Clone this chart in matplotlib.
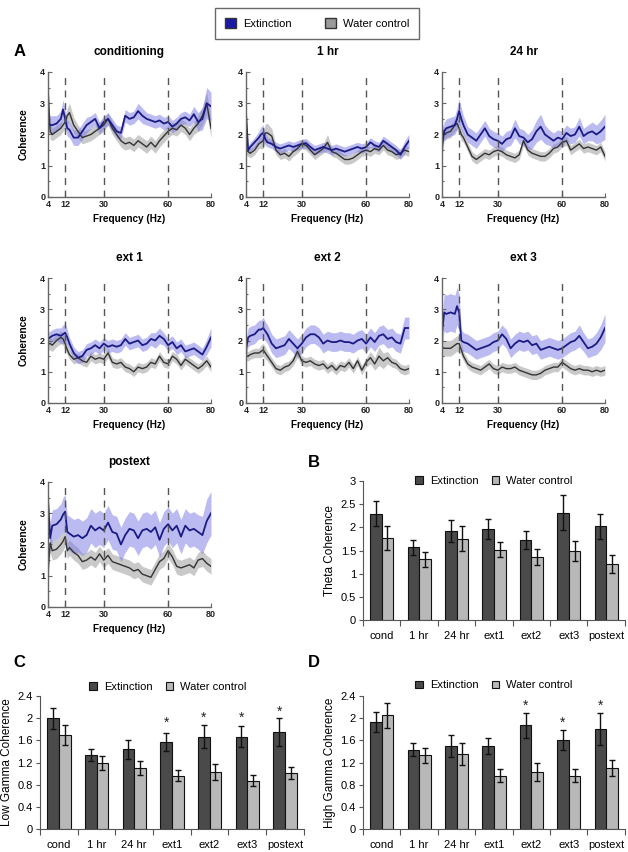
import matplotlib.pyplot as plt
from matplotlib.patches import Patch
from matplotlib.ticker import MultipleLocator
import numpy as np

plt.rcParams['font.family'] = ['Liberation Sans', 'DejaVu Sans']

# ---- coherence spectra (panel A) ----
FREQ = [4, 5, 6, 8, 10, 11, 12, 13, 14, 16,
        18, 20, 22, 24, 26, 28, 30, 32, 34, 36,
        38, 40, 42, 44, 46, 48, 50, 52, 54, 56,
        58, 60, 62, 64, 66, 68, 70, 72, 74, 76, 78, 80]

cond_ext = [2.4, 2.3, 2.3, 2.35, 2.5, 2.8, 2.5, 2.2, 2.15, 1.9,
            1.9, 2.1, 2.3, 2.4, 2.5, 2.2, 2.4, 2.5, 2.3, 2.1,
            2.05, 2.6, 2.5, 2.55, 2.75, 2.6, 2.5, 2.45, 2.4, 2.45,
            2.35, 2.4, 2.25, 2.35, 2.5, 2.55, 2.45, 2.65, 2.4, 2.5, 3.0, 2.9]
cond_ext_se = [0.35, 0.3, 0.3, 0.25, 0.25, 0.3, 0.3, 0.25, 0.25, 0.25,
               0.25, 0.25, 0.25, 0.2, 0.2, 0.2, 0.2, 0.2, 0.2, 0.2,
               0.2, 0.2, 0.2, 0.2, 0.25, 0.25, 0.2, 0.2, 0.2, 0.2,
               0.2, 0.2, 0.2, 0.2, 0.2, 0.2, 0.2, 0.25, 0.3, 0.35, 0.5, 0.45]
cond_wat = [3.5, 2.1, 2.0, 2.1, 2.2, 2.3, 2.4, 2.6, 2.7, 2.3,
            2.1, 1.9, 1.95, 2.0, 2.1, 2.2, 2.3, 2.5, 2.2, 2.0,
            1.8, 1.7, 1.75, 1.65, 1.8, 1.7, 1.6, 1.75, 1.6, 1.8,
            1.95, 2.1, 2.2, 2.15, 2.3, 2.2, 2.0, 2.2, 2.35, 2.6, 3.0, 2.2]
cond_wat_se = [0.3, 0.25, 0.2, 0.2, 0.2, 0.2, 0.2, 0.25, 0.3, 0.25,
               0.2, 0.2, 0.2, 0.2, 0.2, 0.2, 0.2, 0.2, 0.2, 0.2,
               0.2, 0.2, 0.2, 0.2, 0.2, 0.2, 0.2, 0.2, 0.2, 0.2,
               0.2, 0.2, 0.2, 0.2, 0.2, 0.2, 0.2, 0.2, 0.25, 0.3, 0.35, 0.3]

h1_ext = [2.7, 1.5, 1.6, 1.75, 1.9, 2.0, 2.05, 1.85, 1.75, 1.7,
          1.6, 1.55, 1.6, 1.65, 1.6, 1.65, 1.7, 1.72, 1.6, 1.5,
          1.55, 1.6, 1.55, 1.5, 1.55, 1.5, 1.45, 1.5, 1.55, 1.6,
          1.55, 1.6, 1.75, 1.65, 1.6, 1.8, 1.7, 1.6, 1.5, 1.35, 1.6, 1.8]
h1_ext_se = [0.2, 0.15, 0.15, 0.15, 0.2, 0.25, 0.25, 0.2, 0.15, 0.15,
             0.15, 0.15, 0.15, 0.15, 0.15, 0.15, 0.15, 0.15, 0.15, 0.15,
             0.15, 0.15, 0.15, 0.15, 0.15, 0.15, 0.15, 0.15, 0.15, 0.15,
             0.15, 0.15, 0.15, 0.15, 0.15, 0.15, 0.15, 0.15, 0.15, 0.15, 0.2, 0.2]
h1_wat = [1.5, 1.45, 1.4, 1.5, 1.7, 1.75, 1.8, 2.05, 2.05, 1.95,
          1.5, 1.35, 1.4, 1.3, 1.45, 1.55, 1.7, 1.65, 1.5, 1.35,
          1.45, 1.55, 1.75, 1.45, 1.4, 1.3, 1.2, 1.2, 1.25, 1.35,
          1.45, 1.5, 1.45, 1.55, 1.5, 1.65, 1.5, 1.45, 1.35, 1.4, 1.5, 1.45]
h1_wat_se = [0.15, 0.15, 0.15, 0.15, 0.15, 0.2, 0.25, 0.3, 0.3, 0.25,
             0.15, 0.15, 0.15, 0.15, 0.15, 0.15, 0.15, 0.15, 0.15, 0.15,
             0.15, 0.15, 0.25, 0.15, 0.15, 0.15, 0.15, 0.15, 0.15, 0.15,
             0.15, 0.15, 0.15, 0.15, 0.15, 0.15, 0.15, 0.15, 0.15, 0.15, 0.15, 0.15]

h24_ext = [1.6, 2.1, 2.2, 2.25, 2.3, 2.5, 2.75, 2.5, 2.3, 2.0,
           1.9, 1.8, 2.0, 2.2, 1.95, 1.85, 1.8, 1.7, 1.85, 1.9,
           2.2, 1.95, 1.9, 1.75, 1.85, 2.1, 2.25, 2.0, 1.9, 1.8,
           1.9, 1.85, 2.05, 1.95, 2.0, 2.25, 1.95, 2.05, 2.1, 2.0, 2.1, 2.25]
h24_ext_se = [0.3, 0.3, 0.3, 0.3, 0.3, 0.35, 0.4, 0.35, 0.3, 0.25,
              0.25, 0.25, 0.25, 0.25, 0.25, 0.25, 0.25, 0.25, 0.25, 0.25,
              0.3, 0.25, 0.25, 0.25, 0.3, 0.35, 0.4, 0.3, 0.25, 0.25,
              0.25, 0.25, 0.25, 0.25, 0.25, 0.3, 0.25, 0.25, 0.3, 0.3, 0.35, 0.4]
h24_wat = [2.2, 2.0, 2.05, 2.1, 2.3, 2.35, 2.2, 2.0, 1.9, 1.6,
           1.3, 1.2, 1.3, 1.4, 1.35, 1.45, 1.5, 1.45, 1.35, 1.3,
           1.25, 1.35, 1.8, 1.5, 1.4, 1.35, 1.3, 1.3, 1.4, 1.55,
           1.6, 1.75, 1.8, 1.5, 1.6, 1.7, 1.55, 1.6, 1.55, 1.5, 1.6, 1.3]
h24_wat_se = [0.2, 0.2, 0.2, 0.2, 0.2, 0.2, 0.2, 0.2, 0.15, 0.15,
              0.15, 0.15, 0.15, 0.15, 0.15, 0.15, 0.15, 0.15, 0.15, 0.15,
              0.15, 0.15, 0.15, 0.15, 0.15, 0.15, 0.15, 0.15, 0.15, 0.15,
              0.15, 0.15, 0.15, 0.15, 0.15, 0.15, 0.15, 0.15, 0.15, 0.15, 0.15, 0.15]

e1_ext = [2.05, 2.1, 2.15, 2.2, 2.15, 2.2, 2.25, 2.1, 1.9, 1.6,
          1.45, 1.5, 1.7, 1.75, 1.85, 1.75, 1.9, 1.8, 1.85, 1.8,
          1.85, 2.05, 1.9, 1.95, 2.0, 1.85, 1.9, 2.05, 2.0, 2.15,
          2.05, 1.85, 1.95, 1.75, 1.85, 1.65, 1.7, 1.75, 1.65, 1.55, 1.8, 2.1]
e1_ext_se = [0.2, 0.2, 0.2, 0.2, 0.25, 0.3, 0.3, 0.25, 0.2, 0.2,
             0.2, 0.2, 0.2, 0.2, 0.2, 0.2, 0.2, 0.2, 0.2, 0.2,
             0.2, 0.2, 0.2, 0.2, 0.2, 0.2, 0.2, 0.2, 0.25, 0.25,
             0.2, 0.2, 0.2, 0.2, 0.2, 0.2, 0.2, 0.2, 0.2, 0.2, 0.25, 0.3]
e1_wat = [1.9, 1.9, 1.85, 2.0, 2.1, 2.05, 1.9, 1.7, 1.55, 1.4,
          1.45, 1.35, 1.3, 1.5, 1.4, 1.45, 1.4, 1.6, 1.3, 1.25,
          1.3, 1.15, 1.1, 1.0, 1.15, 1.1, 1.15, 1.3, 1.25, 1.5,
          1.3, 1.25, 1.5, 1.4, 1.2, 1.4, 1.3, 1.2, 1.1, 1.2, 1.35, 1.15]
e1_wat_se = [0.2, 0.2, 0.2, 0.2, 0.2, 0.2, 0.2, 0.15, 0.15, 0.15,
             0.15, 0.15, 0.15, 0.15, 0.15, 0.15, 0.15, 0.15, 0.15, 0.15,
             0.15, 0.15, 0.15, 0.15, 0.15, 0.15, 0.15, 0.15, 0.15, 0.15,
             0.15, 0.15, 0.15, 0.15, 0.15, 0.15, 0.15, 0.15, 0.15, 0.15, 0.15, 0.15]

e2_ext = [1.7, 2.1, 2.15, 2.2, 2.35, 2.35, 2.4, 2.3, 2.2, 1.9,
          1.75, 1.8, 1.85, 2.05, 1.9, 1.75, 1.9, 2.1, 2.2, 2.2,
          2.1, 1.9, 2.0, 1.95, 1.95, 2.0, 1.95, 1.95, 1.9, 2.0,
          2.05, 1.9, 2.1, 1.95, 2.15, 2.2, 2.05, 2.1, 1.95, 1.9, 2.4, 2.4]
e2_ext_se = [0.3, 0.3, 0.3, 0.3, 0.3, 0.3, 0.35, 0.3, 0.3, 0.3,
             0.3, 0.3, 0.3, 0.3, 0.3, 0.3, 0.3, 0.3, 0.3, 0.3,
             0.3, 0.3, 0.3, 0.3, 0.3, 0.3, 0.3, 0.3, 0.3, 0.3,
             0.3, 0.3, 0.3, 0.3, 0.3, 0.3, 0.3, 0.3, 0.3, 0.3, 0.35, 0.35]
e2_wat = [1.5, 1.5, 1.55, 1.6, 1.6, 1.65, 1.7, 1.6, 1.5, 1.3,
          1.1, 1.05, 1.15, 1.2, 1.35, 1.65, 1.35, 1.3, 1.35, 1.25,
          1.2, 1.25, 1.1, 1.2, 1.05, 1.2, 1.15, 1.3, 1.1, 1.35,
          1.05, 1.3, 1.45, 1.25, 1.5, 1.35, 1.45, 1.3, 1.25, 1.1, 1.05, 1.1]
e2_wat_se = [0.15, 0.15, 0.15, 0.15, 0.15, 0.2, 0.2, 0.2, 0.15, 0.15,
             0.15, 0.15, 0.15, 0.15, 0.15, 0.2, 0.15, 0.15, 0.15, 0.15,
             0.15, 0.15, 0.15, 0.15, 0.15, 0.15, 0.15, 0.15, 0.15, 0.15,
             0.15, 0.15, 0.2, 0.2, 0.3, 0.25, 0.2, 0.15, 0.15, 0.15, 0.15, 0.15]

e3_ext = [2.2, 2.9, 2.85, 2.9, 2.85, 3.1, 2.9, 2.0, 1.95, 1.9,
          1.8, 1.7, 1.75, 1.8, 1.85, 1.95, 2.0, 2.2, 2.05, 1.75,
          1.9, 2.0, 1.95, 2.0, 1.85, 1.9, 1.7, 1.75, 1.8, 1.75,
          1.7, 1.75, 1.85, 1.95, 2.0, 2.15, 1.95, 1.75, 1.8, 1.9, 2.1, 2.4]
e3_ext_se = [0.5, 0.6, 0.6, 0.6, 0.6, 0.6, 0.6, 0.35, 0.3, 0.3,
             0.3, 0.3, 0.3, 0.3, 0.3, 0.3, 0.3, 0.3, 0.3, 0.3,
             0.3, 0.3, 0.3, 0.3, 0.3, 0.3, 0.3, 0.3, 0.3, 0.3,
             0.3, 0.3, 0.3, 0.3, 0.3, 0.35, 0.3, 0.3, 0.3, 0.35, 0.4, 0.45]
e3_wat = [1.8, 1.75, 1.75, 1.75, 1.85, 1.9, 1.9, 1.7, 1.5, 1.25,
          1.15, 1.1, 1.05, 1.15, 1.25, 1.1, 1.05, 1.15, 1.1, 1.1,
          1.15, 1.05, 1.0, 0.95, 0.9, 0.9, 0.95, 1.05, 1.1, 1.15,
          1.15, 1.3, 1.2, 1.1, 1.05, 1.1, 1.05, 1.05, 1.0, 1.05, 1.0, 1.05]
e3_wat_se = [0.25, 0.25, 0.25, 0.25, 0.25, 0.25, 0.25, 0.2, 0.15, 0.15,
             0.15, 0.15, 0.15, 0.15, 0.15, 0.15, 0.15, 0.15, 0.15, 0.15,
             0.15, 0.15, 0.15, 0.15, 0.15, 0.15, 0.15, 0.15, 0.15, 0.15,
             0.15, 0.15, 0.15, 0.15, 0.15, 0.15, 0.15, 0.15, 0.15, 0.15, 0.15, 0.15]

post_ext = [3.4, 2.2, 2.6, 2.65, 2.8, 2.95, 3.05, 2.4, 2.35, 2.25,
            2.3, 2.2, 2.3, 2.6, 2.45, 2.55, 2.45, 2.7, 2.4, 2.35,
            2.0, 2.3, 2.5, 2.45, 2.2, 2.45, 2.5, 2.4, 2.55, 2.15,
            2.5, 2.65, 2.45, 2.6, 2.25, 2.6, 2.45, 2.5, 2.4, 2.3, 2.75, 3.0]
post_ext_se = [0.5, 0.5, 0.5, 0.5, 0.5, 0.55, 0.55, 0.55, 0.55, 0.55,
               0.55, 0.55, 0.55, 0.55, 0.55, 0.55, 0.55, 0.55, 0.55, 0.55,
               0.55, 0.55, 0.55, 0.55, 0.55, 0.55, 0.55, 0.55, 0.55, 0.55,
               0.55, 0.55, 0.55, 0.55, 0.55, 0.55, 0.55, 0.55, 0.55, 0.6, 0.7, 0.7]
post_wat = [1.1, 2.05, 1.8, 1.85, 2.0, 2.1, 2.25, 1.8, 1.9, 1.75,
            1.65, 1.45, 1.5, 1.6, 1.5, 1.7, 1.5, 1.65, 1.45, 1.4,
            1.35, 1.3, 1.25, 1.15, 1.2, 1.05, 1.0, 0.95, 1.2, 1.45,
            1.55, 1.8, 1.6, 1.3, 1.25, 1.3, 1.35, 1.25, 1.5, 1.55, 1.4, 1.3]
post_wat_se = [0.3, 0.3, 0.3, 0.3, 0.3, 0.3, 0.3, 0.25, 0.25, 0.25,
               0.25, 0.25, 0.25, 0.25, 0.25, 0.25, 0.25, 0.25, 0.25, 0.25,
               0.25, 0.25, 0.25, 0.25, 0.25, 0.25, 0.25, 0.25, 0.25, 0.25,
               0.25, 0.25, 0.25, 0.25, 0.25, 0.25, 0.25, 0.25, 0.25, 0.25, 0.25, 0.25]

spec_titles = ['conditioning', '1 hr', '24 hr', 'ext 1', 'ext 2', 'ext 3', 'postext']

# ---- band coherence bars (panels B, C, D) ----
sessions = ['cond', '1 hr', '24 hr', 'ext1', 'ext2', 'ext3', 'postext']

theta_ext = [2.30, 1.57, 1.92, 1.97, 1.73, 2.32, 2.02]
theta_ext_err = [0.27, 0.16, 0.23, 0.21, 0.20, 0.37, 0.28]
theta_wat = [1.78, 1.31, 1.76, 1.52, 1.36, 1.49, 1.21]
theta_wat_err = [0.26, 0.16, 0.26, 0.16, 0.18, 0.22, 0.19]

lowg_ext = [2.00, 1.34, 1.44, 1.57, 1.67, 1.67, 1.75]
lowg_ext_err = [0.19, 0.11, 0.17, 0.16, 0.20, 0.19, 0.25]
lowg_wat = [1.69, 1.19, 1.10, 0.96, 1.03, 0.87, 1.01]
lowg_wat_err = [0.18, 0.12, 0.13, 0.10, 0.15, 0.10, 0.11]
lowg_star = [None, None, None, 1.97, 2.07, 2.07, 2.18]

highg_ext = [1.94, 1.43, 1.50, 1.50, 1.87, 1.60, 1.81]
highg_ext_err = [0.18, 0.12, 0.20, 0.15, 0.22, 0.18, 0.29]
highg_wat = [2.05, 1.33, 1.36, 0.96, 1.03, 0.96, 1.10]
highg_wat_err = [0.22, 0.14, 0.20, 0.12, 0.16, 0.12, 0.14]
highg_star = [None, None, None, None, 2.28, 1.98, 2.28]

BLUE_LINE = '#1b1b85'
BLUE_BAND = '#7878e4'
GRAY_LINE = '#333333'
GRAY_BAND = '#c4c4c4'

fig = plt.figure(figsize=(6.28, 8.52), dpi=100)

spectra = [
    (cond_ext, cond_ext_se, cond_wat, cond_wat_se),
    (h1_ext, h1_ext_se, h1_wat, h1_wat_se),
    (h24_ext, h24_ext_se, h24_wat, h24_wat_se),
    (e1_ext, e1_ext_se, e1_wat, e1_wat_se),
    (e2_ext, e2_ext_se, e2_wat, e2_wat_se),
    (e3_ext, e3_ext_se, e3_wat, e3_wat_se),
    (post_ext, post_ext_se, post_wat, post_wat_se),
]
lefts = [0.0764, 0.3917, 0.7038]
bottoms = [0.7688, 0.527, 0.2876]
f = np.array(FREQ)

for i, (ext, ext_se, wat, wat_se) in enumerate(spectra):
    row, col = divmod(i, 3)
    ax = fig.add_axes([lefts[col], bottoms[row], 0.2596, 0.1467])
    ext, ext_se = np.array(ext), np.array(ext_se)
    wat, wat_se = np.array(wat), np.array(wat_se)
    ax.fill_between(f, wat - wat_se, wat + wat_se, color=GRAY_BAND, lw=0, alpha=0.9)
    ax.fill_between(f, ext - ext_se, ext + ext_se, color=BLUE_BAND, lw=0, alpha=0.5)
    ax.plot(f, wat, color=GRAY_LINE, lw=1.0)
    ax.plot(f, ext, color=BLUE_LINE, lw=1.3)
    for v in [12, 30, 60]:
        ax.axvline(v, color='#555555', lw=1.0, ls=(0, (5, 4)))
    ax.set_xlim(4, 80)
    ax.set_ylim(0, 4)
    ax.set_xticks([4, 12, 30, 60, 80])
    ax.set_yticks([0, 1, 2, 3, 4])
    ax.yaxis.set_minor_locator(MultipleLocator(0.5))
    for s in ['top', 'right']:
        ax.spines[s].set_visible(False)
    for s in ['left', 'bottom']:
        ax.spines[s].set_color('#666666')
        ax.spines[s].set_linewidth(1.0)
    ax.tick_params(which='both', direction='in', length=3, width=0.8, colors='#666666',
                   labelcolor='#222222', labelsize=6.5, pad=2)
    ax.tick_params(which='minor', length=1.5)
    for lab in ax.get_xticklabels() + ax.get_yticklabels():
        lab.set_fontweight('bold')
    ax.set_title(spec_titles[i], fontsize=8.5, fontweight='bold', pad=12)
    ax.set_xlabel('Frequency (Hz)', fontsize=7.2, fontweight='bold', labelpad=4)
    if col == 0:
        ax.set_ylabel('Coherence', fontsize=7.2, fontweight='bold', labelpad=8)

fig.legend(handles=[Patch(facecolor='#1a1aa8', edgecolor='#333333'),
                    Patch(facecolor='#9a9a9a', edgecolor='#333333')],
           labels=['Extinction', 'Water control'], ncol=2, loc='upper center',
           bbox_to_anchor=(0.505, 0.997), frameon=True, fancybox=False,
           edgecolor='#444444', fontsize=8, handlelength=1.0, handleheight=1.0,
           columnspacing=3.0, borderpad=0.9, handletextpad=0.6)


def bar_panel(rect, ext, ext_err, wat, wat_err, ylabel, ymax, ystep, legend_y, legend_x, stars=None):
    ax = fig.add_axes(rect)
    x = np.arange(len(sessions))
    w = 0.31
    ax.bar(x - w / 2, ext, w, yerr=ext_err, color='#4a4a4a', edgecolor='#111111', lw=0.8,
           error_kw=dict(ecolor='#111111', elinewidth=1.0, capsize=2, capthick=1.0),
           label='Extinction')
    ax.bar(x + w / 2, wat, w, yerr=wat_err, color='#b8b8b8', edgecolor='#111111', lw=0.8,
           error_kw=dict(ecolor='#111111', elinewidth=1.0, capsize=2, capthick=1.0),
           label='Water control')
    if stars is not None:
        for xi, s in zip(x, stars):
            if s is not None:
                ax.text(xi - w / 2, s - ymax * 0.055, '*', ha='center', va='baseline',
                        fontsize=10, color='#222222')
    ax.set_xlim(-0.5, len(sessions) - 0.5)
    ax.set_ylim(0, ymax)
    ax.set_yticks(np.arange(0, ymax + 1e-6, ystep))
    ax.set_yticklabels(['%g' % v for v in np.arange(0, ymax + 1e-6, ystep)])
    ax.set_xticks(np.arange(-0.5, len(sessions)))
    ax.set_xticklabels([])
    ax.set_xticks(x, minor=True)
    ax.set_xticklabels(sessions, minor=True)
    ax.tick_params(axis='x', which='major', direction='out', length=4, color='#555555')
    ax.tick_params(axis='x', which='minor', length=0, labelsize=8, pad=8)
    ax.tick_params(axis='y', direction='out', length=3, color='#555555', labelsize=8, pad=2)
    for s in ['top', 'right']:
        ax.spines[s].set_visible(False)
    for s in ['left', 'bottom']:
        ax.spines[s].set_color('#555555')
    ax.set_ylabel(ylabel, fontsize=8.5, labelpad=3)
    ax.legend(loc='center', bbox_to_anchor=(legend_x, legend_y), ncol=2, frameon=False,
              fontsize=8, handlelength=0.7, handleheight=0.7, handletextpad=0.6,
              columnspacing=1.2)
    return ax


bar_panel([0.578, 0.2723, 0.417, 0.163], theta_ext, theta_ext_err, theta_wat, theta_wat_err,
          'Theta Coherence', 3.0, 0.5, 1.0, 0.5)
bar_panel([0.0637, 0.027, 0.42, 0.156], lowg_ext, lowg_ext_err, lowg_wat, lowg_wat_err,
          'Low Gamma Coherence', 2.4, 0.4, 1.07, 0.485, lowg_star)
bar_panel([0.578, 0.027, 0.417, 0.156], highg_ext, highg_ext_err, highg_wat, highg_wat_err,
          'High Gamma Coherence', 2.4, 0.4, 1.08, 0.5, highg_star)

fig.text(0.022, 0.939, 'A', fontsize=12, fontweight='bold', va='center')
fig.text(0.490, 0.457, 'B', fontsize=12, fontweight='bold', va='center')
fig.text(0.021, 0.222, 'C', fontsize=12, fontweight='bold', va='center')
fig.text(0.490, 0.222, 'D', fontsize=12, fontweight='bold', va='center')

fig.savefig('out.png', dpi=100)
